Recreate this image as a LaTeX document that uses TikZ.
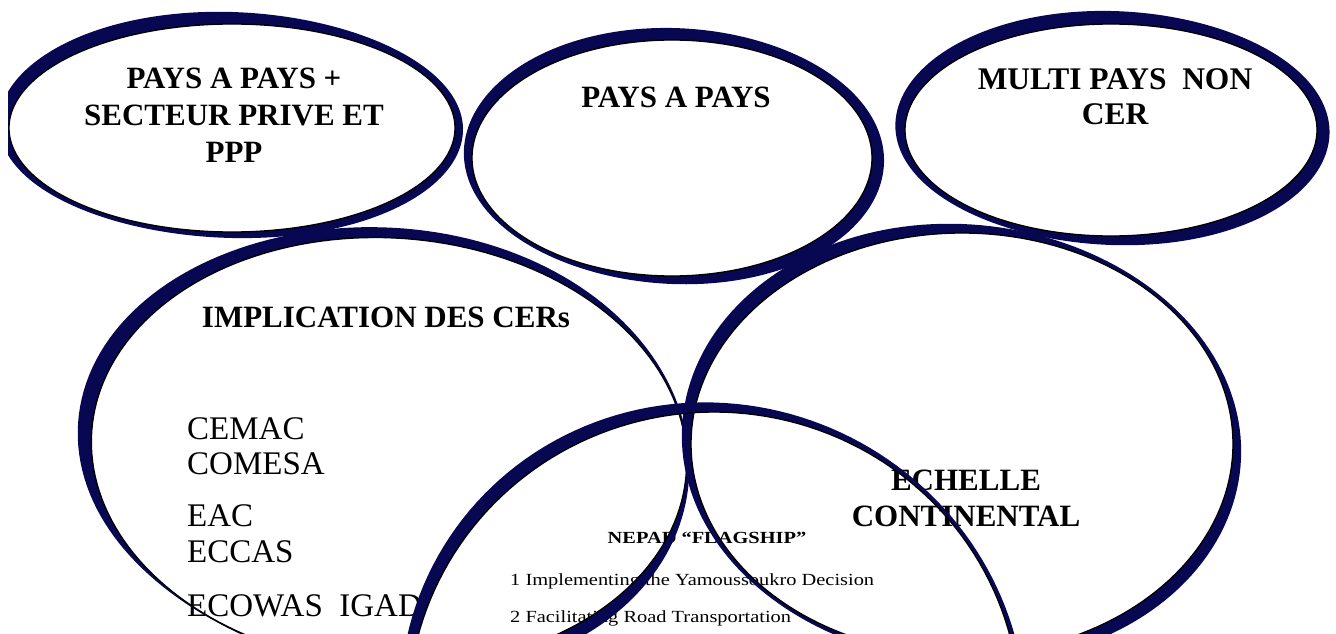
\documentclass[tikz,border=0pt]{standalone}
\usepackage{fontspec}
\setmainfont{Liberation Serif}
\newfontfamily\nepadfont{Liberation Serif}[FakeStretch=1.2]
\definecolor{navy}{RGB}{8,8,82}
\tikzset{
  rim/.style={fill=navy, even odd rule},
  rimline/.style={draw=black, line width=1.3pt},
  rimplot/.style={domain=0:360, samples=181, variable=\t},
  bigtitle/.style={font=\bfseries\fontsize{31}{37}\selectfont, align=center, anchor=north, inner sep=0pt},
  cerlist/.style={font=\fontsize{33}{35.5}\selectfont, align=left, anchor=north west, inner sep=0pt},
  smalltitle/.style={font=\nepadfont\bfseries\fontsize{17}{37}\selectfont, anchor=north, inner sep=0pt},
  smalllist/.style={font=\nepadfont\fontsize{17}{37}\selectfont, align=left, anchor=north west, inner sep=0pt}
}
\begin{document}
\begin{tikzpicture}[x=1pt,y=-1pt,
  declare function={rimw(\t)=\tk+\tx*cos(\t)+\ty*sin(\t)+\td*sin(2*\t)+\tc*cos(3*\t);}]
\useasboundingbox (0,0) rectangle (1336,634);
\clip (8,0) rectangle (1336,634);
\node[bigtitle] (ppText) at (234,68) {PAYS A PAYS +\\SECTEUR PRIVE ET\\PPP};
\node[bigtitle] (papText) at (676,87) {PAYS A PAYS};
\node[bigtitle, font=\bfseries\fontsize{31.5}{35}\selectfont] (mpText) at (1115,68) {MULTI PAYS\ \ NON\\CER};
\node[bigtitle] (cerText) at (386,307) {IMPLICATION DES CERs};
\node[cerlist] (cerList) at (187,417) {CEMAC\\COMESA\\[16.5pt]EAC\\ECCAS\\[18.5pt]ECOWAS\ \ IGAD};
\node[bigtitle, font=\bfseries\fontsize{31}{36}\selectfont] (contText) at (966,470) {ECHELLE\\CONTINENTAL};
\node[smalltitle] (nepText) at (707,532) {NEPAD \textquotedblleft FLAGSHIP\textquotedblright};
\node[smalllist] (nepList) at (510,573) {1 Implementing the Yamoussoukro Decision\\2 Facilitating Road Transportation};
% centre x / centre y / radii / tilt / rim width: mean, left-right, up-down, diagonal, 3-fold
\foreach \cx/\cy/\rx/\ry/\tilt/\tk/\tx/\ty/\td/\tc in {
  232/128/223/104/0/9/-1/-3/3/0,
  672/158/200/118/0/10/2/-2/3/0,
  1111/130/206/106/0/11/1.5/-2/3/0,
  389/452/298/214/4/8.5/-2.5/-1.5/5/-3,
  962/444/271/211/0/8.5/-0.5/-0.5/5/0,
  714/712/306/300/0/7/-1/-2.5/4/0}
{
  \begin{scope}[shift={(\cx,\cy)}]
    \fill[rim] plot[rimplot]
      ({(\rx+rimw(\t))*cos(\t)*cos(\tilt)-(\ry+rimw(\t))*sin(\t)*sin(\tilt)},
       {(\rx+rimw(\t))*cos(\t)*sin(\tilt)+(\ry+rimw(\t))*sin(\t)*cos(\tilt)}) -- cycle
      plot[rimplot]
      ({\rx*cos(\t)*cos(\tilt)-\ry*sin(\t)*sin(\tilt)},
       {\rx*cos(\t)*sin(\tilt)+\ry*sin(\t)*cos(\tilt)}) -- cycle;
    \draw[rimline] plot[rimplot]
      ({\rx*cos(\t)*cos(\tilt)-\ry*sin(\t)*sin(\tilt)},
       {\rx*cos(\t)*sin(\tilt)+\ry*sin(\t)*cos(\tilt)}) -- cycle;
  \end{scope}
}
\end{tikzpicture}
\end{document}
